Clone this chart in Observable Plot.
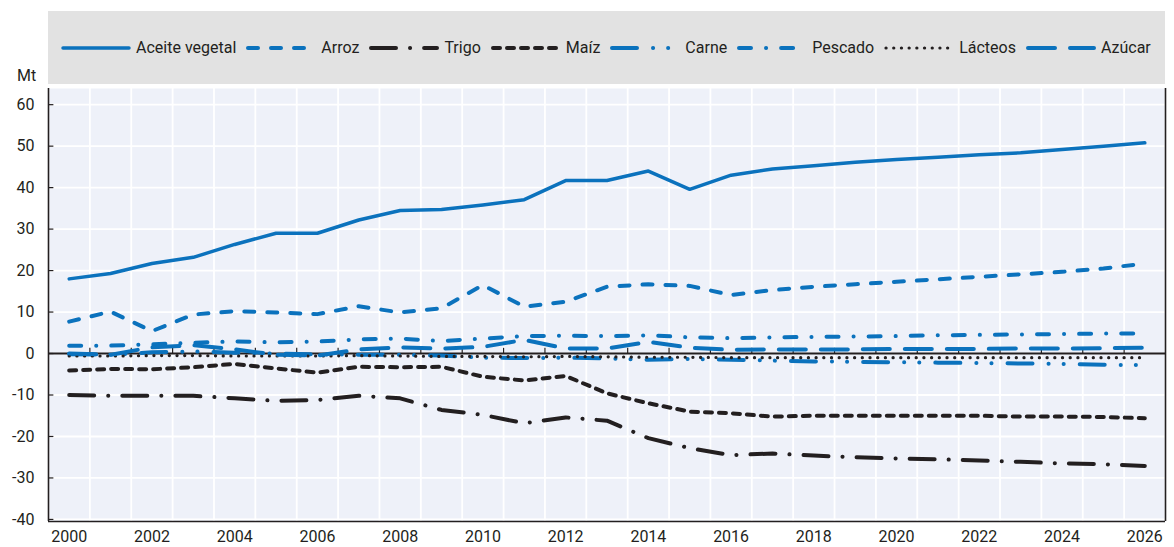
<!DOCTYPE html>
<html>
<head>
<meta charset="utf-8">
<script src="https://cdn.jsdelivr.net/npm/d3@7"></script>
<script src="https://cdn.jsdelivr.net/npm/@observablehq/plot@0.6"></script>
<style>
  body { margin: 0; background: #fff; }
  #wrap { position: relative; width: 1174px; height: 547px; font-family: Roboto, "Liberation Sans", sans-serif; color: #231f20; }
  #header { position: relative; height: 84px; }
  #legend { position: absolute; left: 48px; top: 11px; width: 1117px; height: 73px; background: #e2e2e2; display: flex; align-items: center; padding-left: 13px; box-sizing: border-box; font-size: 16px; white-space: nowrap; }
  .item { display: flex; align-items: center; margin-right: 10px; }
  .item svg { display: block; margin-right: 5px; }
  #unit { position: absolute; left: 17px; top: 66px; font-size: 16px; }
</style>
</head>
<body>
<div id="wrap">
  <div id="header">
    <div id="legend"></div>
    <div id="unit">Mt</div>
  </div>
  <div id="chart"></div>
</div>
<script>
const years = d3.range(2000, 2027);
const xTicks = d3.range(2000, 2027, 2);
const yTicks = d3.range(-40, 61, 10);

const aceite  = [18.0,19.3,21.7,23.2,26.3,29.0,29.0,32.2,34.5,34.7,35.8,37.1,41.7,41.7,44.0,39.6,43.0,44.5,45.3,46.1,46.8,47.3,47.9,48.4,49.2,50.0,50.8];
const arroz   = [7.7,10.1,5.4,9.4,10.2,9.9,9.5,11.4,9.9,10.9,16.5,11.3,12.5,16.1,16.7,16.3,14.1,15.3,16.1,16.7,17.3,17.9,18.5,19.1,19.7,20.5,21.7];
const trigo   = [-10.0,-10.2,-10.2,-10.2,-10.8,-11.4,-11.2,-10.2,-10.8,-13.6,-14.8,-16.8,-15.4,-16.2,-20.4,-22.8,-24.5,-24.1,-24.6,-25.0,-25.3,-25.5,-25.8,-26.1,-26.5,-26.7,-27.1];
const maiz    = [-4.1,-3.7,-3.8,-3.3,-2.5,-3.6,-4.6,-3.2,-3.3,-3.2,-5.6,-6.5,-5.4,-9.6,-12.0,-14.0,-14.4,-15.2,-15.0,-15.0,-15.0,-15.0,-15.0,-15.2,-15.2,-15.3,-15.6];
const carne   = [-0.2,-0.3,0.3,0.5,0.2,0.0,-0.2,-0.3,-0.3,-0.5,-1.0,-1.1,-1.0,-1.2,-1.5,-1.3,-1.5,-1.7,-1.9,-2.0,-2.1,-2.2,-2.3,-2.4,-2.5,-2.7,-2.8];
const pescado = [1.9,1.9,2.2,2.6,2.9,2.7,2.9,3.4,3.6,3.0,3.6,4.2,4.3,4.2,4.4,3.9,3.7,3.9,4.0,4.1,4.2,4.4,4.5,4.6,4.7,4.8,4.8];
const lacteos = [-0.6,-0.6,-0.5,-0.5,-0.6,-0.6,-0.6,-0.5,-0.6,-0.7,-0.7,-0.8,-0.7,-0.8,-0.9,-0.9,-1.0,-1.0,-1.0,-1.0,-1.0,-1.0,-1.0,-1.0,-1.0,-1.0,-1.0];
const azucar  = [0.0,-0.3,1.5,2.0,1.0,-0.3,-0.5,1.0,1.5,1.2,1.6,3.3,1.2,1.2,2.8,1.4,0.9,1.0,1.0,1.0,1.1,1.1,1.1,1.2,1.2,1.3,1.4];

const BLUE = "#0b72bd", BLACK = "#231f20";
const series = [
  {name: "Aceite vegetal", values: aceite,  stroke: BLUE,  dash: null,                  width: 3.5},
  {name: "Arroz",          values: arroz,   stroke: BLUE,  dash: "10,13",               width: 4},
  {name: "Trigo",          values: trigo,   stroke: BLACK, dash: "25,14,0.1,14",        width: 4},
  {name: "Maíz",           values: maiz,    stroke: BLACK, dash: "7,7",                 width: 4},
  {name: "Carne",          values: carne,   stroke: BLUE,  dash: "25,16,0.1,15,0.1,16", width: 4},
  {name: "Pescado",        values: pescado, stroke: BLUE,  dash: "12,15,0.1,15",        width: 4},
  {name: "Lácteos",        values: lacteos, stroke: BLACK, dash: "0.1,7.6",             width: 3.2},
  {name: "Azúcar",         values: azucar,  stroke: BLUE,  dash: "27,15",               width: 4}
];

// Legend
const legend = document.getElementById("legend");
for (const s of series) {
  const item = document.createElement("div");
  item.className = "item";
  const ns = "http://www.w3.org/2000/svg";
  const svg = document.createElementNS(ns, "svg");
  svg.setAttribute("width", 70); svg.setAttribute("height", 10);
  const ln = document.createElementNS(ns, "line");
  ln.setAttribute("x1", 2); ln.setAttribute("x2", 68);
  ln.setAttribute("y1", 5); ln.setAttribute("y2", 5);
  ln.setAttribute("stroke", s.stroke);
  ln.setAttribute("stroke-width", s.width);
  ln.setAttribute("stroke-linecap", "round");
  if (s.dash) ln.setAttribute("stroke-dasharray", s.dash);
  svg.appendChild(ln);
  const txt = document.createElement("span");
  txt.textContent = s.name;
  item.appendChild(svg); item.appendChild(txt);
  legend.appendChild(item);
}

const halfYears = d3.range(1999.5, 2027, 1);
const innerHalf = d3.range(2000.5, 2026, 1);

const lineMarks = series.map(s => Plot.line(
  years.map((y, i) => ({year: y, value: s.values[i]})),
  {x: "year", y: "value", stroke: s.stroke, strokeWidth: s.width,
   strokeDasharray: s.dash || undefined, strokeLinecap: "round", strokeLinejoin: "round"}
));

const chart = Plot.plot({
  width: 1174, height: 463,
  marginLeft: 48, marginRight: 9, marginTop: 4, marginBottom: 26,
  x: {domain: [1999.5, 2026.5]},
  y: {domain: [-40.5, 63.9]},
  style: {fontFamily: 'Roboto, "Liberation Sans", sans-serif', fontSize: "16px", color: BLACK, background: "transparent", overflow: "visible"},
  marks: [
    Plot.frame({fill: "#eef1f9", stroke: null}),
    Plot.ruleX(halfYears, {stroke: "white", strokeWidth: 1.8}),
    Plot.ruleY(yTicks, {stroke: "white", strokeWidth: 1.8}),
    Plot.ruleY([0], {stroke: BLACK, strokeWidth: 2}),
    Plot.ruleX(innerHalf, {y1: 0, y2: 1.25, stroke: BLACK, strokeWidth: 1.2}),
    Plot.ruleY(yTicks, {x1: 1999.5, x2: 1999.63, stroke: BLACK, strokeWidth: 1.2}),
    ...lineMarks,
    Plot.ruleX([1999.5], {stroke: BLACK, strokeWidth: 1.6}),
    Plot.ruleX([2026.5], {stroke: BLACK, strokeWidth: 1.6}),
    Plot.ruleY([-40.5], {stroke: BLACK, strokeWidth: 1.6}),
    Plot.axisX({ticks: xTicks, tickFormat: d => String(d), tickSize: 0, tickPadding: 9, label: null}),
    Plot.axisY({ticks: yTicks, tickFormat: d => String(d), tickSize: 0, tickPadding: 14, label: null})
  ]
});
document.getElementById("chart").appendChild(chart);
</script>
</body>
</html>
